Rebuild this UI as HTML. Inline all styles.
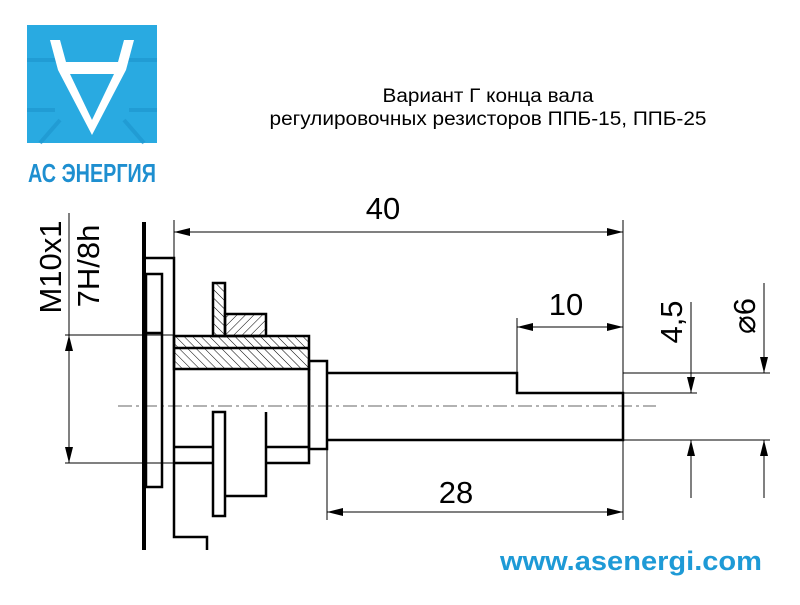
<!DOCTYPE html>
<html><head><meta charset="utf-8"><style>
body{margin:0;width:800px;height:600px;background:#fff;overflow:hidden}
</style></head><body>
<svg width="800" height="600" viewBox="0 0 800 600" xmlns="http://www.w3.org/2000/svg" font-family="Liberation Sans, sans-serif">
<defs>
<pattern id="h1" width="6" height="6" patternUnits="userSpaceOnUse" patternTransform="rotate(45)"><line x1="0" y1="0" x2="0" y2="6" stroke="#000" stroke-width="1"/></pattern>
<pattern id="h2" width="6" height="6" patternUnits="userSpaceOnUse" patternTransform="rotate(-45)"><line x1="0" y1="0" x2="0" y2="6" stroke="#000" stroke-width="1"/></pattern>
<marker id="a" markerWidth="16" markerHeight="8" refX="16" refY="4" orient="auto-start-reverse" markerUnits="userSpaceOnUse"><path d="M0,0 L16,4 L0,8 z" fill="#000"/></marker>
</defs>
<!-- logo -->
<rect x="27" y="25" width="130" height="118" fill="#29aae1"/>
<g fill="none" stroke="#1e96cf" stroke-width="4" opacity="0.7">
<path d="M27,60 L60,60 M124,60 L157,60 M27,110 L55,110 M129,110 L157,110 M40,143 L60,120 M144,143 L124,120"/>
</g>
<path d="M50,40 L60,40 L66,62 L118,62 L124,40 L134,40 L126,70 L92,135 L58,70 Z M70,74 L92,120 L114,74 Z" fill="#fff" fill-rule="evenodd"/>
<text x="92" y="182" text-anchor="middle" font-size="26" font-weight="bold" fill="#1e8fd0" textLength="128" lengthAdjust="spacingAndGlyphs">АС ЭНЕРГИЯ</text>
<!-- title -->
<text x="488" y="102" text-anchor="middle" font-size="19" textLength="211" lengthAdjust="spacingAndGlyphs">Вариант Г конца вала</text>
<text x="488" y="125" text-anchor="middle" font-size="19" textLength="437" lengthAdjust="spacingAndGlyphs">регулировочных резисторов ППБ-15, ППБ-25</text>
<text x="631" y="570" text-anchor="middle" font-size="27" font-weight="bold" fill="#1e9ad6" textLength="262" lengthAdjust="spacingAndGlyphs">www.asenergi.com</text>
<!-- centerline -->
<line x1="118" y1="406" x2="656" y2="406" stroke="#666" stroke-width="1" stroke-dasharray="14,4,3,4"/>
<!-- thin lines -->
<g stroke="#000" stroke-width="1" fill="none">
<line x1="69" y1="213" x2="69" y2="335"/>
<line x1="69" y1="335" x2="69" y2="463" marker-start="url(#a)" marker-end="url(#a)"/>
<line x1="65" y1="335" x2="174" y2="335"/>
<line x1="65" y1="463" x2="213" y2="463"/>
<line x1="174" y1="220" x2="174" y2="258"/>
<line x1="623" y1="220" x2="623" y2="520"/>
<line x1="174" y1="232" x2="623" y2="232" marker-start="url(#a)" marker-end="url(#a)"/>
<line x1="327" y1="449" x2="327" y2="520"/>
<line x1="327" y1="512" x2="623" y2="512" marker-start="url(#a)" marker-end="url(#a)"/>
<line x1="517" y1="318" x2="517" y2="373"/>
<line x1="517" y1="327" x2="623" y2="327" marker-start="url(#a)" marker-end="url(#a)"/>
<line x1="623" y1="373" x2="770" y2="373"/>
<line x1="623" y1="393" x2="697" y2="393"/>
<line x1="623" y1="440" x2="770" y2="440"/>
<line x1="691" y1="302" x2="691" y2="393" marker-end="url(#a)"/>
<line x1="691" y1="498" x2="691" y2="440" marker-end="url(#a)"/>
<line x1="764" y1="283" x2="764" y2="373" marker-end="url(#a)"/>
<line x1="764" y1="498" x2="764" y2="440" marker-end="url(#a)"/>
</g>
<!-- thick -->
<line x1="144" y1="222" x2="144" y2="550" stroke="#000" stroke-width="4"/>
<g stroke="#000" stroke-width="2.5" fill="none">
<polyline points="146,258 174,258 174,537 207,537 207,550"/>
<rect x="146" y="274" width="16" height="213"/>
<line x1="146" y1="333" x2="162" y2="333"/>
<rect x="174" y="336" width="135" height="33" fill="url(#h2)"/>
<line x1="174" y1="348" x2="309" y2="348"/>
<rect x="213" y="283" width="12" height="53" fill="url(#h2)"/>
<rect x="225" y="314" width="41" height="22" fill="url(#h1)"/>
<polyline points="309,369 309,463 266,463"/>
<line x1="174" y1="447" x2="213" y2="447"/>
<line x1="266" y1="447" x2="309" y2="447"/>
<polyline points="174,463 213,463"/>
<rect x="213" y="412" width="12" height="104"/>
<polyline points="225,496 266,496 266,412"/>
<rect x="309" y="361" width="18" height="88"/>
<polyline points="327,373 517,373 517,393 623,393 623,440 327,440"/>
</g>
<!-- labels -->
<text x="383" y="219" text-anchor="middle" font-size="31">40</text>
<text x="456" y="503" text-anchor="middle" font-size="31">28</text>
<text x="566" y="315" text-anchor="middle" font-size="31">10</text>
<text transform="translate(682,322) rotate(-90)" text-anchor="middle" font-size="31">4,5</text>
<text transform="translate(755,316) rotate(-90)" text-anchor="middle" font-size="31">⌀6</text>
<text transform="translate(61,267) rotate(-90)" text-anchor="middle" font-size="31">M10x1</text>
<text transform="translate(99,266) rotate(-90)" text-anchor="middle" font-size="31">7H/8h</text>
</svg>
</body></html>
